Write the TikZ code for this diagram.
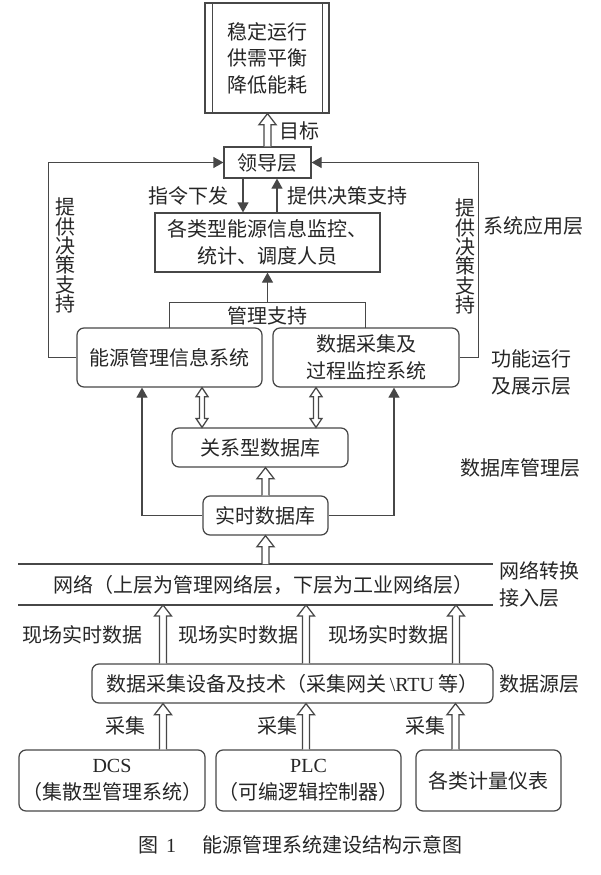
\documentclass[tikz,border=0pt]{standalone}
\usepackage{fontspec}
\setmainfont{Liberation Serif}
\newfontfamily\cjk{Noto Sans CJK SC}
\usetikzlibrary{arrows.meta,calc}
\tikzset{
  ln/.style={draw=black!72, line width=1.25pt},
  box/.style={ln, inner sep=0pt, align=center, text=black!85},
  rbox/.style={box, rounded corners=7pt},
  lbl/.style={inner sep=0pt, text=black!85, align=center},
  farrow/.style={ln, -{Triangle[width=11pt,length=10pt]}},
  harrow/.style={ln, fill=white, line join=miter},
}
% hollow arrow pointing up: #1 start (bottom), #2 end (top)
\newcommand\hup[2]{\draw[harrow] let \p1=(#1), \p2=(#2) in
  (\x1-3.5pt,\y1) -- (\x1-3.5pt,\y2-11pt) -- (\x1-8.5pt,\y2-11pt) -- (\x1,\y2)
  -- (\x1+8.5pt,\y2-11pt) -- (\x1+3.5pt,\y2-11pt) -- (\x1+3.5pt,\y1);}
% hollow double-headed arrow: #1 bottom, #2 top
\newcommand\hboth[2]{\draw[harrow] let \p1=(#1), \p2=(#2) in
  (\x1-2.5pt,\y1+9pt) -- (\x1-6pt,\y1+9pt) -- (\x1,\y1) -- (\x1+6pt,\y1+9pt)
  -- (\x1+2.5pt,\y1+9pt) -- (\x1+2.5pt,\y2-9pt) -- (\x1+6pt,\y2-9pt) -- (\x1,\y2)
  -- (\x1-6pt,\y2-9pt) -- (\x1-2.5pt,\y2-9pt) -- cycle;}
\begin{document}
\begin{tikzpicture}[x=1pt,y=-1pt,font=\cjk\fontsize{20pt}{27pt}\selectfont]
\useasboundingbox (0,0) rectangle (601,875);
\fill[white] (0,0) rectangle (601,875);

% ---- top goal box
\node[box, minimum width=124pt, minimum height=110pt] (goal) at (267,58)
  {稳定运行\\[-0.5pt]供需平衡\\[-0.5pt]降低能耗};
\draw[ln] ([xshift=8pt]goal.north west) -- ([xshift=8pt]goal.south west);
\draw[ln] ([xshift=-7pt]goal.north east) -- ([xshift=-7pt]goal.south east);

% ---- leadership
\node[box, minimum width=87pt, minimum height=31pt] (lead) at (267.5,162.5) {领导层};
\hup{lead.north}{goal.south}
\node[lbl, anchor=west] (goallbl) at (279,131) {目标};

% ---- staff
\node[box, minimum width=225pt, minimum height=59pt] (staff) at (267.5,242.5)
  {各类型能源信息监控、\\统计、调度人员};
\coordinate (c1) at ([xshift=-24.5pt]lead.south);
\coordinate (c2) at ([xshift=9.5pt]staff.north);
\draw[farrow] (c1) -- (c1 |- staff.north);
\draw[farrow] (c2) -- (c2 |- lead.south);
\node[lbl] (cmdlbl) at (188,196) {指令下发};
\node[lbl, anchor=west] (suplbl) at (287,196) {提供决策支持};

% ---- management support
\node[lbl, minimum width=195pt, minimum height=25pt] (mgmt) at (267.5,315.5) {管理支持};
\draw[ln] (mgmt.south west) -- (mgmt.north west) -- (mgmt.north east) -- (mgmt.south east);
\draw[farrow] (mgmt.north) -- (staff.south);

% ---- systems
\node[rbox, minimum width=185pt, minimum height=59pt] (ems) at (169.5,357.5) {能源管理信息系统};
\node[rbox, minimum width=186pt, minimum height=59pt] (scada) at (366,357.5) {数据采集及\\过程监控系统};

\draw[farrow] (ems.west) -- ++(-28,0) |- (lead.west);
\draw[farrow] (scada.east) -- ++(19,0) |- (lead.east);
\node[lbl, font=\cjk\fontsize{20pt}{19.3pt}\selectfont] (lv) at (65,255.5) {提\\供\\决\\策\\支\\持};
\node[lbl, font=\cjk\fontsize{20pt}{19.3pt}\selectfont] (rv) at (465,256.5) {提\\供\\决\\策\\支\\持};

% ---- databases
\node[rbox, minimum width=176pt, minimum height=39pt] (rdb) at (260,447.5) {关系型数据库};
\node[rbox, minimum width=125pt, minimum height=39pt] (rtdb) at (265.5,515.5) {实时数据库};
\coordinate (d1) at ([xshift=32.5pt]ems.south);
\coordinate (d2) at ([xshift=-50pt]scada.south);
\hboth{d1 |- rdb.north}{d1}
\hboth{d2 |- rdb.north}{d2}
\hup{rtdb.north}{rdb.south}
\coordinate (e1) at ([xshift=-27.5pt]ems.south);
\coordinate (s1) at ([xshift=28pt]scada.south);
\draw[farrow] (rtdb.west) -| (e1);
\draw[farrow] (rtdb.east) -| (s1);

% ---- network
\coordinate (ntl) at (18,564);
\coordinate (ntr) at (493,564);
\coordinate (nbl) at (18,605);
\coordinate (nbr) at (493,605);
\draw[ln] (ntl) -- (ntr);
\draw[ln] (nbl) -- (nbr);
\node[lbl] (net) at (263,585.5) {网络（上层为管理网络层，下层为工业网络层）};
\hup{rtdb.south |- ntl}{rtdb.south}

% ---- acquisition
\node[rbox, minimum width=401pt, minimum height=39pt] (acq) at (292.5,683.5)
  {数据采集设备及技术（采集网关{\rmfamily\,\textbackslash RTU} 等）};
\coordinate (a1) at ([xshift=-129.5pt]acq.north);
\coordinate (a2) at ([xshift=13.5pt]acq.north);
\coordinate (a3) at ([xshift=163.5pt]acq.north);
\hup{a1}{nbl}
\hup{a2}{nbl}
\hup{a3}{nbl}
\node[lbl] (rt1) at (82,635) {现场实时数据};
\node[lbl] (rt2) at (238,635) {现场实时数据};
\node[lbl] (rt3) at (388,635) {现场实时数据};

% ---- sources
\node[rbox, minimum width=186pt, minimum height=61pt] (dcs) at (112,780.5)
  {{\rmfamily DCS}\\（集散型管理系统）};
\node[rbox, minimum width=185pt, minimum height=61pt] (plc) at (308.5,780.5)
  {{\rmfamily PLC}\\（可编逻辑控制器）};
\node[rbox, minimum width=145pt, minimum height=61pt] (meter) at (488.5,780.5) {各类计量仪表};
\coordinate (b1) at ([xshift=51pt]dcs.north);
\coordinate (b2) at ([xshift=-2.5pt]plc.north);
\coordinate (b3) at ([xshift=-33pt]meter.north);
\hup{b1}{acq.south}
\hup{b2}{acq.south}
\hup{b3}{acq.south}
\node[lbl] (cj1) at (125,726) {采集};
\node[lbl] (cj2) at (277,726) {采集};
\node[lbl] (cj3) at (425,726) {采集};

% ---- layer labels
\node[lbl, anchor=west] (L1) at (483,226) {系统应用层};
\node[lbl] (L2) at (531,372) {功能运行\\及展示层};
\node[lbl] (L3) at (520,468) {数据库管理层};
\node[lbl, anchor=west, align=left] (L4) at (499,584.5) {网络转换\\接入层};
\node[lbl, anchor=west] (L5) at (499,684) {数据源层};

% ---- caption
\node[lbl] (cap) at (300,845) {图\hspace{0.4em}{\rmfamily 1}\hspace{1.3em}能源管理系统建设结构示意图};
\end{tikzpicture}
\end{document}
